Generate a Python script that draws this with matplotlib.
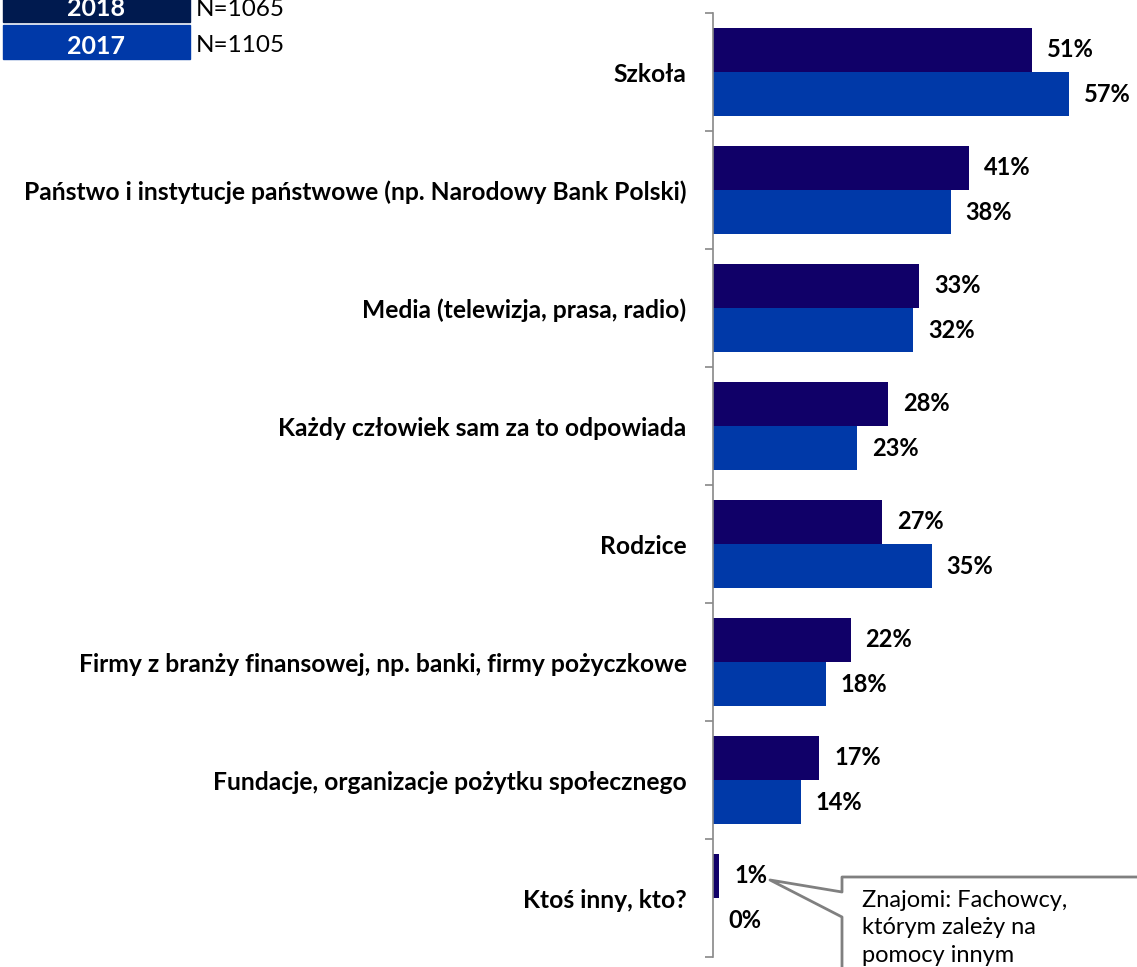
import numpy as np
import matplotlib.pyplot as plt
from matplotlib.patches import Rectangle
from matplotlib.lines import Line2D

categories = [
    "Szkoła",
    "Państwo i instytucje państwowe (np. Narodowy Bank Polski)",
    "Media (telewizja, prasa, radio)",
    "Każdy człowiek sam za to odpowiada",
    "Rodzice",
    "Firmy z branży finansowej, np. banki, firmy pożyczkowe",
    "Fundacje, organizacje pożytku społecznego",
    "Ktoś inny, kto?",
]
values_2018 = [51, 41, 33, 28, 27, 22, 17, 1]
values_2017 = [57, 38, 32, 23, 35, 18, 14, 0]
legend_years = ["2018", "2017"]
legend_n = ["N=1065", "N=1105"]
note_text = "Znajomi: Fachowcy,\nktórym zależy na\npomocy innym"

col_2018 = "#100068"
col_2017 = "#0039a8"
legend_cols = ["#001a4f", "#0039a8"]

plt.rcParams['font.family'] = ['Lato', 'DejaVu Sans']

W, H = 1137, 967
fig = plt.figure(figsize=(W / 100, H / 100), dpi=100)
ax = fig.add_axes([713 / W, 10 / H, 1 - 713 / W, (957 - 13) / H])

y = np.arange(len(categories))
h = 0.375
ax.barh(y - h / 2, values_2018, height=h, color=col_2018)
ax.barh(y + h / 2, values_2017, height=h, color=col_2017)

for i in range(len(categories)):
    ax.annotate(f"{values_2018[i]}%", (values_2018[i], y[i] - h / 2), xytext=(15, 0),
                textcoords="offset pixels", va="center", ha="left",
                fontsize=17, fontweight="bold")
    ax.annotate(f"{values_2017[i]}%", (values_2017[i], y[i] + h / 2), xytext=(15, 0),
                textcoords="offset pixels", va="center", ha="left",
                fontsize=17, fontweight="bold")

ax.set_xlim(0, (W - 713) / 6.25)
ax.set_ylim(len(categories) - 0.5, -0.5)
ax.set_yticks(y)
ax.set_yticklabels(categories, fontsize=17.7, fontweight="bold")
ax.set_yticks(np.arange(len(categories) + 1) - 0.5, minor=True)
ax.tick_params(axis="y", which="major", length=0, pad=19)
ax.tick_params(axis="y", which="minor", length=6, color="#888888", width=1.2)
ax.set_xticks([])
for s in ["top", "right", "bottom"]:
    ax.spines[s].set_visible(False)
ax.spines["left"].set_color("#888888")
ax.spines["left"].set_linewidth(1.2)

# legend boxes in the top-left corner
for k in range(2):
    top = 22 + k * 37
    fig.patches.append(Rectangle((3 / W, 1 - top / H), 187 / W, 34 / H,
                                 transform=fig.transFigure, color=legend_cols[k]))
    fig.text(96 / W, 1 - (top - 13) / H, legend_years[k], ha="center", va="center",
             color="white", fontsize=18, fontweight="bold")
    fig.text(196 / W, 1 - (top - 13) / H, legend_n[k], ha="left", va="center",
             fontsize=17.5)

# callout for "Ktoś inny"
gray = "#808080"
px = lambda xp, yp: (xp / W, 1 - yp / H)
pts = [px(1140, 877), px(842, 877), px(842, 892), px(770, 880), px(842, 917), px(842, 970)]
xs, ys = zip(*pts)
fig.lines.append(Line2D(xs, ys, transform=fig.transFigure, color=gray, lw=2))
fig.text(862 / W, 1 - 890 / H, note_text, ha="left", va="top", fontsize=17,
         linespacing=1.38)

fig.savefig("out.png", dpi=100)
